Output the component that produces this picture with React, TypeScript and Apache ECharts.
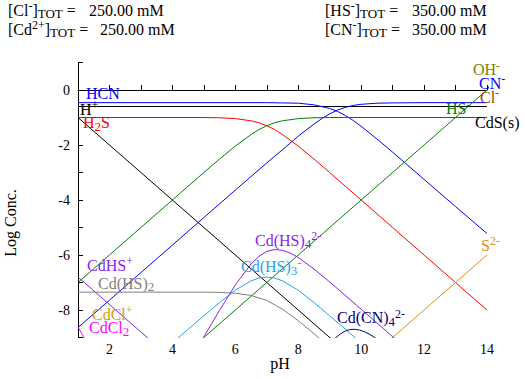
import React, { useEffect, useRef } from "react";
import * as echarts from "echarts";

const FONT = "Liberation Serif";

// pH axis ticks / log-concentration axis
const xTicks = [2, 4, 6, 8, 10, 12, 14];
const yTicks = [0, -2, -4, -6, -8];

// Totals shown in the header
const totalNames = ["{m|[Cl}{sup|-}{m|]}{sub|TOT}{m| =}", "{m|[Cd}{sup|2+}{m|]}{sub|TOT}{m| =}", "{m|[HS}{sup|-}{m|]}{sub|TOT}{m| =}", "{m|[CN}{sup|-}{m|]}{sub|TOT}{m| =}"];
const totalValues = ["250.00 mM", "250.00 mM", "350.00 mM", "350.00 mM"];

// Species curves: [pH, log concentration]
const hcn = [[1, -0.46], [7, -0.46], [7.5, -0.47], [8, -0.48], [8.5, -0.54], [9, -0.67], [9.25, -0.78], [9.5, -0.93], [9.75, -1.11], [10, -1.32], [10.5, -1.78], [11, -2.26], [12, -3.25], [13, -4.24], [14, -5.22]];
const cn = [[1, -8.64], [2, -7.64], [3, -6.64], [4, -5.64], [5, -4.64], [6, -3.64], [7, -2.65], [7.5, -2.17], [8, -1.68], [8.5, -1.24], [8.75, -1.04], [9, -0.87], [9.25, -0.73], [9.5, -0.63], [9.75, -0.56], [10, -0.52], [10.5, -0.48], [11, -0.47], [12, -0.46], [14, -0.46]];
const hPlus = [[1, -1], [9.6, -9.6]];
const ohMinus = [[4.6, -9.4], [14, 0]];
const hs = [[1, -7.0], [2, -6.0], [3, -5.0], [4, -4.0], [5, -3.0], [5.5, -2.51], [6, -2.04], [6.5, -1.62], [6.75, -1.44], [7, -1.3], [7.25, -1.19], [7.5, -1.12], [8, -1.04], [8.5, -1.01], [9, -1.0], [14, -1.0]];
const h2s = [[1, -1.0], [5, -1.0], [5.5, -1.01], [6, -1.04], [6.5, -1.12], [6.75, -1.19], [7, -1.3], [7.25, -1.44], [7.5, -1.62], [8, -2.04], [8.5, -2.51], [9, -3.0], [10, -4.0], [11, -5.0], [12, -6.0], [13, -7.0], [14, -8.0]];
const s2 = [[10.5, -9.5], [14, -6.0]];
const clMinus = [[1, -0.6], [14, -0.6]];
const cdsSolid = [[1, -0.6], [14, -0.6]];
const cdhs = [[1, -6.8], [3.6, -9.4]];
const cdhs2 = [[1, -7.35], [5, -7.35], [5.5, -7.36], [6, -7.39], [6.5, -7.47], [7, -7.65], [7.5, -7.97], [8, -8.39], [8.5, -8.86], [9, -9.35]];
const cdhs3 = [[4, -9.2], [4.5, -8.7], [5, -8.21], [5.5, -7.73], [6, -7.28], [6.5, -6.94], [6.75, -6.84], [7, -6.8], [7.25, -6.84], [7.5, -6.94], [8, -7.28], [8.5, -7.73], [9, -8.21], [9.5, -8.7], [10, -9.2]];
const cdhs4 = [[4.5, -9.97], [5, -8.98], [5.5, -8.01], [6, -7.09], [6.5, -6.33], [6.75, -6.05], [7, -5.87], [7.25, -5.8], [7.5, -5.83], [7.75, -5.93], [8, -6.09], [8.5, -6.51], [9, -6.98], [10, -7.97], [11, -8.97], [11.5, -9.47]];
const cdcn4 = [[9.0, -9.2], [9.2, -9.0], [9.35, -8.86], [9.5, -8.76], [9.65, -8.71], [9.8, -8.7], [9.95, -8.73], [10.1, -8.79], [10.25, -8.87], [10.43, -9.0], [10.6, -9.15]];
const cdcl = [[1, -9.3], [1.5, -10.3]];
const cdcl2 = [[1, -8.62], [1.5, -9.62]];

const C = {
  blue: "#0000ff",
  black: "#000000",
  red: "#ff0000",
  green: "#008000",
  oliveLabel: "#808000",
  brown: "#a04808",
  orange: "#d89010",
  purple: "#8a1ef0",
  gray: "#808080",
  sky: "#1ea4ee",
  navy: "#000080",
  gold: "#d49a10",
  magenta: "#ff00ff",
};

function richFor(color: string, size = 16) {
  return {
    m: { fontFamily: FONT, fontSize: size, lineHeight: 20, fill: color },
    sub: { fontFamily: FONT, fontSize: size - 3, lineHeight: 12, verticalAlign: "bottom", fill: color },
    sup: { fontFamily: FONT, fontSize: size - 4, lineHeight: 12, verticalAlign: "top", fill: color },
  };
}

function label(text: string, x: number, y: number, color: string, size = 16) {
  return {
    type: "text",
    x,
    y,
    z: 100,
    style: {
      text,
      rich: richFor(color, size),
      fill: color,
      fontFamily: FONT,
      fontSize: size,
      align: "left",
      verticalAlign: "middle",
    },
  };
}

function line(name: string, data: number[][], color: string, width = 1) {
  return {
    type: "line",
    name,
    data,
    showSymbol: false,
    symbol: "none",
    clip: true,
    lineStyle: { color, width },
    itemStyle: { color },
    emphasis: { disabled: true },
    z: 2,
  };
}

export default function App() {
  const ref = useRef<HTMLDivElement>(null);
  useEffect(() => {
    if (!ref.current) return;
    const chart = echarts.init(ref.current, null, { renderer: "svg" });
    chart.setOption({
      animation: false,
      backgroundColor: "#ffffff",
      grid: { left: 78, right: 38, top: 62.5, bottom: 41.5, outerBoundsMode: "none" },
      xAxis: {
        type: "value",
        min: 1,
        max: 14,
        interval: 1,
        axisLine: { lineStyle: { color: "#000", width: 1 } },
        axisTick: { inside: true, length: 5, lineStyle: { color: "#000" } },
        axisLabel: {
          formatter: (v: number) => (xTicks.includes(v) ? String(v) : ""),
          color: "#000",
          fontFamily: FONT,
          fontSize: 14,
          margin: 5,
        },
        splitLine: { show: false },
      },
      yAxis: {
        type: "value",
        min: -9,
        max: 1,
        interval: 1,
        axisLine: { show: true, lineStyle: { color: "#000", width: 1 } },
        axisTick: { show: true, inside: true, length: 5, lineStyle: { color: "#000" } },
        axisLabel: {
          formatter: (v: number) => (yTicks.includes(v) ? String(v) : ""),
          color: "#000",
          fontFamily: FONT,
          fontSize: 14,
          margin: 8,
        },
        splitLine: { show: false },
      },
      series: [
        line("Cl-", clMinus, C.brown),
        line("CdS(s)", cdsSolid, C.black),
        line("HCN", hcn, C.blue),
        line("CN-", cn, C.blue),
        line("H+", hPlus, C.black),
        line("OH-", ohMinus, C.green),
        line("HS-", hs, C.green),
        line("H2S", h2s, C.red),
        line("S2-", s2, C.orange),
        line("CdHS+", cdhs, C.purple),
        line("Cd(HS)2", cdhs2, C.gray),
        line("Cd(HS)3-", cdhs3, C.sky),
        line("Cd(HS)4 2-", cdhs4, C.purple),
        line("Cd(CN)4 2-", cdcn4, C.navy),
        line("CdCl+", cdcl, C.gold),
        line("CdCl2", cdcl2, C.magenta),
      ],
      graphic: [
        label(totalNames[0], 8, 10, "#000"),
        label("{m|" + totalValues[0] + "}", 89, 10, "#000"),
        label(totalNames[1], 8, 29, "#000"),
        label("{m|" + totalValues[1] + "}", 100, 29, "#000"),
        label(totalNames[2], 325, 10, "#000"),
        label("{m|" + totalValues[2] + "}", 412, 10, "#000"),
        label(totalNames[3], 325, 29, "#000"),
        label("{m|" + totalValues[3] + "}", 412, 29, "#000"),
        label("{m|HCN}", 86, 93, C.blue),
        label("{m|H}{sup|+}", 80, 109, C.black),
        label("{m|H}{sub|2}{m|S}", 83, 122.5, C.red),
        label("{m|OH}{sup|-}", 473, 69.5, C.oliveLabel),
        label("{m|CN}{sup|-}", 479, 83, C.blue),
        label("{m|Cl}{sup|-}", 480, 97, C.brown),
        label("{m|HS}{sup|-}", 446, 108.5, C.green),
        label("{m|CdS(s)}", 475, 122.5, C.black),
        label("{m|S}{sup|2-}", 481, 245, C.orange),
        label("{m|CdHS}{sup|+}", 87, 265, C.purple),
        label("{m|Cd(HS)}{sub|2}", 98, 283, C.gray),
        label("{m|CdCl}{sup|+}", 92, 314, C.gold),
        label("{m|CdCl}{sub|2}", 89, 327.5, C.magenta),
        label("{m|Cd(HS)}{sub|4}{sup|2-}", 255, 240, C.purple),
        label("{m|Cd(HS)}{sub|3}{sup|-}", 241, 266.5, C.sky),
        label("{m|Cd(CN)}{sub|4}{sup|2-}", 337, 317.5, C.navy),
        {
          type: "text",
          x: 10,
          y: 223,
          rotation: Math.PI / 2,
          style: { text: "Log Conc.", fontFamily: FONT, fontSize: 16, fill: "#000", align: "center", verticalAlign: "middle" },
        },
        {
          type: "text",
          x: 280,
          y: 363,
          style: { text: "pH", fontFamily: FONT, fontSize: 16, fill: "#000", align: "center", verticalAlign: "middle" },
        },
      ],
    });
    return () => chart.dispose();
  }, []);
  return (
    <div
      ref={ref}
      style={{ position: "fixed", left: 0, top: 0, width: 525, height: 379, background: "#fff" }}
    />
  );
}
